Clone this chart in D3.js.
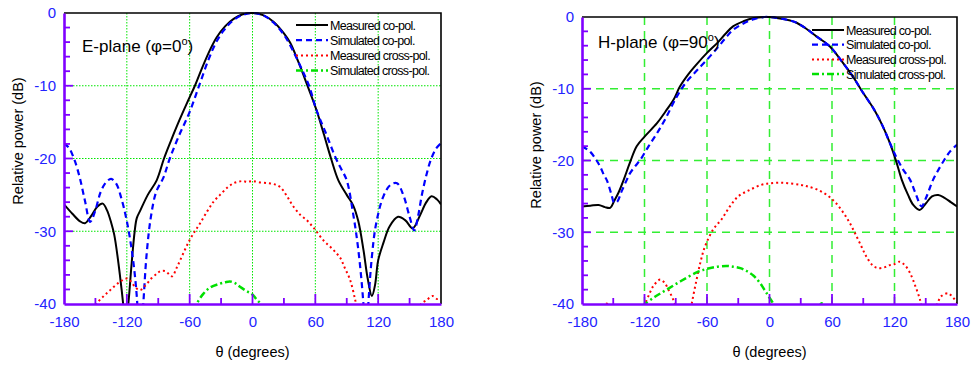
<!DOCTYPE html>
<html lang="en">
<head>
  <meta charset="UTF-8">
  <title>radiation patterns</title>
  <script src="https://d3js.org/d3.v7.min.js" charset="utf-8"></script>
  <style>
    body { margin: 0; background: #fff; }
    text { font-family: Arial, "Liberation Sans", sans-serif; }
  </style>
</head>
<body>
</body>
<script>
  // theta (deg), relative power (dB); null breaks a line
  var thetaTicks = [-180, -120, -60, 0, 60, 120, 180]
  var dbTicks = [0, -10, -20, -30, -40]
  var seriesNames = ['Measured co-pol.', 'Simulated co-pol.', 'Measured cross-pol.', 'Simulated cross-pol.']

  // E-plane
  var eMeasCo = [[-180,-26.3],[-172,-27.6],[-165,-28.6],[-160,-28.9],[-154,-27.9],[-148,-26.6],[-143,-26.2],[-139,-27.1],[-135,-28.8],[-132,-30.5],[-128,-34.4],[-125,-38],[-122.5,-41],[-120.5,-42],[-118.6,-40],[-115.4,-34.4],[-112.5,-30],[-110.5,-28.2],[-107,-27.1],[-100,-25],[-91.5,-23],[-84.5,-20],[-78,-17.6],[-70,-14.8],[-62,-12.2],[-55,-10],[-48,-7.5],[-40,-4.9],[-34,-3.3],[-26,-1.8],[-18,-0.8],[-10,-0.2],[0,0],[10,-0.3],[20,-1.2],[30,-2.8],[36,-4.1],[44,-6.8],[52,-9.8],[61,-13.3],[68,-16.6],[75,-20],[82,-23],[90,-25],[96,-26.4],[101,-28.6],[106,-32.6],[110,-36.5],[114,-38.9],[117,-37.4],[120,-34],[125,-31.6],[131,-29.3],[139,-28],[146,-28.5],[153,-29.6],[160,-27.8],[166,-26],[171,-25.2],[176,-25.6],[180,-26.3]]
  var eSimCo = [[-180,-17.9],[-175,-18.6],[-170,-20.2],[-165,-22.6],[-160,-25.8],[-155,-28.7],[-150,-27.1],[-145,-24.6],[-140,-23.3],[-135,-22.8],[-130,-23.5],[-125,-25.6],[-120,-28.6],[-115.4,-32.5],[-112,-36.5],[-110,-40],[-107.5,-47],[-104.3,-40],[-101,-33],[-97,-28],[-92,-24.6],[-85,-22.6],[-79,-20],[-70,-16.8],[-60,-13.6],[-51,-10],[-42,-6.4],[-35,-4.1],[-28,-2.5],[-20,-1.2],[-10,-0.3],[0,0],[10,-0.3],[20,-1.3],[30,-3],[38,-5],[46,-7.4],[54,-10],[61,-13.3],[70,-16.5],[79.7,-20],[85,-21.5],[90,-23],[96,-27.5],[101,-32.5],[105.9,-40],[108,-47],[110.6,-40],[114,-33.5],[118,-29],[125,-25.2],[132,-23.6],[138,-23.4],[144,-25],[150,-28],[154.5,-29.9],[158,-28],[162,-24.8],[166,-22.3],[170,-20.3],[175,-18.7],[180,-17.9]]
  var eMeasX = [[-152,-41.5],[-148.8,-40],[-142,-38.9],[-136,-38.1],[-128,-37.1],[-120,-36.5],[-116,-36.9],[-112,-37.7],[-107.4,-38.1],[-102,-37.4],[-96,-36.4],[-91,-35.8],[-88,-35.5],[-83,-35.5],[-77,-36.2],[-72,-34.9],[-66,-33],[-60,-31.2],[-55,-30],[-50,-28.9],[-43,-27.2],[-37,-25.9],[-31,-25],[-24,-24],[-18,-23.4],[-10,-23.1],[-5,-23.2],[0,-23.1],[8,-23.3],[16,-23.4],[22,-23.6],[27,-24],[33,-25.2],[39,-26.6],[46,-27.8],[52,-28.5],[57,-29.3],[61,-30],[68,-31.3],[74,-32.1],[80,-33],[84,-33.7],[88,-35],[93,-36.6],[98,-39.4],[101,-41.5],
    null,[157,-41.5],[161,-40],[166,-39.5],[172,-38.9],[176,-39.3],[180,-39.2]]
  var eSimX = [[-56,-41],[-53.3,-40],[-47,-38.6],[-40,-37.7],[-31,-37.2],[-26,-37],[-21.5,-36.9],[-17,-37.1],[-12.3,-37.6],[-6,-38.2],[-2,-38.5],[0.8,-38.8],[4,-39.4],[7.2,-39.9],[9,-40.5]]

  // H-plane
  var hMeasCo = [[-180,-26.4],[-172,-26.3],[-164,-26.2],[-158,-26.5],[-153,-26.6],[-149,-25.6],[-145,-24.5],[-140,-22.7],[-134,-20.3],[-127.5,-18],[-119.5,-16.6],[-108,-14.8],[-100,-13.2],[-92,-11.5],[-86,-9.7],[-78,-8],[-70,-6.6],[-60,-5],[-50,-3.6],[-42,-2.3],[-35,-1.3],[-25,-0.6],[-15,-0.15],[-5,0],[0,0],[10,-0.2],[20,-0.5],[26,-0.8],[35,-1.6],[45,-2.7],[58,-4.1],[70,-6.3],[80,-8.3],[90,-10.6],[100,-12.8],[108,-15],[115.7,-17.6],[122,-20.3],[127,-22.7],[133,-24.8],[138,-26.2],[144,-26.9],[150,-26],[156,-25],[162,-24.8],[168,-25.2],[174,-25.8],[180,-26.4]]
  var hSimCo = [[-180,-18],[-172,-18.8],[-166,-20],[-162.7,-20.8],[-159,-22],[-156,-22.8],[-152,-24.6],[-149,-25.9],[-146,-25.7],[-142,-24.3],[-137,-22.7],[-134,-21.8],[-129,-20.8],[-124,-19.9],[-116,-18],[-108,-16.2],[-100,-14.2],[-89,-11.1],[-80,-9.1],[-70,-7.5],[-60,-5.95],[-50,-4.3],[-42,-2.9],[-35,-1.8],[-25,-0.9],[-15,-0.3],[-5,0],[0,0],[10,-0.2],[20,-0.5],[26,-0.8],[35,-1.6],[45,-2.7],[58,-4.1],[70,-6.3],[80,-8.3],[90,-10.6],[100,-12.8],[108,-15],[115.7,-17.6],[122,-19.6],[128,-21.2],[135,-22.7],[140,-24.5],[146,-26.4],[150,-25.3],[154,-23.8],[157,-22.7],[161,-21.6],[167,-20.1],[173,-18.8],[180,-17.8]]
  var hMeasX = [[-181,-40],[-178,-41],null,[-162,-41],[-159,-40],[-155,-40],[-152,-41],
    null,[-122,-41],[-119.5,-40],[-115,-38.5],[-111.5,-37.5],[-105,-36.6],[-101,-37],[-97,-38],[-93,-39.2],[-90.7,-40],[-88,-41.5],
    null,[-77,-42],[-74.7,-40],[-70,-36.6],[-66,-34],[-62,-32],[-54,-29.6],[-46,-28.2],[-38,-26.4],[-30,-25],[-19,-24.1],[-8,-23.4],[0,-23.2],[10,-23.1],[20,-23.2],[30,-23.4],[36,-23.6],[45,-24],[55,-24.8],[63,-25.8],[71,-27.3],[77,-28.7],[82,-30.1],[88,-31.9],[93,-33.4],[99,-34.6],[104,-35],[110,-34.9],[115,-34.6],[119,-34.5],[125,-34.1],[130,-34.6],[135,-35.7],[140,-37.5],[144.5,-39.4],[147,-41],
    null,[157,-41.5],[161,-40],[165,-38.9],[171.6,-38.5],[175,-38.9],[178,-39.4],[180,-39.8]]
  var hSimX = [[-122,-40.3],[-119.5,-40],[-110,-39],[-98.7,-38],[-85,-36.8],[-70,-35.6],[-60,-35.1],[-50,-34.8],[-41,-34.7],[-35,-34.8],[-28,-35],[-22,-35.4],[-15,-36.1],[-9,-37.1],[-4,-38.2],[-1,-38.9],[3.7,-40],[6,-41],
    null,[47,-40.6],[50,-39.9],[53,-40.6]]

  var styles = [
    { color: '#000', width: 2, dash: null },
    { color: '#0000ff', width: 2.2, dash: '6,4' },
    { color: '#ff0000', width: 2, dash: '2,3' },
    { color: '#00e000', width: 2.5, dash: '7,3,2,3' }
  ]
  var axisColor = '#7f00ff'

  var svg = d3.select('body').append('svg').attr('width', 971).attr('height', 365)

  function drawPanel(cfg) {
    var x = d3.scaleLinear().domain([-180, 180]).range([cfg.left, cfg.right])
    var y = d3.scaleLinear().domain([-40, 0]).range([cfg.bottom, cfg.top])
    var g = svg.append('g')

    // grid
    g.append('g').selectAll('line').data(thetaTicks.slice(1, -1)).join('line')
      .attr('x1', d => x(d)).attr('x2', d => x(d)).attr('y1', cfg.top).attr('y2', cfg.bottom)
      .attr('stroke', cfg.gridColor).attr('stroke-width', cfg.gridWidth).attr('stroke-dasharray', cfg.gridDash)
    g.append('g').selectAll('line').data(dbTicks.slice(1, -1)).join('line')
      .attr('y1', d => y(d)).attr('y2', d => y(d)).attr('x1', cfg.left).attr('x2', cfg.right)
      .attr('stroke', cfg.gridColor).attr('stroke-width', cfg.gridWidth).attr('stroke-dasharray', cfg.gridDash)

    // curves
    g.append('clipPath').attr('id', cfg.id + 'clip').append('rect')
      .attr('x', cfg.left).attr('y', cfg.top - 2).attr('width', cfg.right - cfg.left).attr('height', cfg.bottom - cfg.top + 2)
    var line = d3.line().defined(d => d != null).x(d => x(d[0])).y(d => y(d[1])).curve(d3.curveCatmullRom.alpha(0.5))
    cfg.series.forEach(function(s, i) {
      g.append('path').attr('d', line(s)).attr('clip-path', 'url(#' + cfg.id + 'clip)')
        .attr('fill', 'none').attr('stroke', styles[i].color).attr('stroke-width', styles[i].width)
        .attr('stroke-dasharray', styles[i].dash)
    })

    // frame: top and right black
    g.append('path').attr('d', 'M' + cfg.left + ',' + cfg.top + 'H' + cfg.right + 'V' + cfg.bottom)
      .attr('fill', 'none').attr('stroke', '#000').attr('stroke-width', 1.6)

    // axes (labels from d3 axis, ticks drawn by hand so minor ones fit in)
    var yAxis = d3.axisLeft(y).tickValues(dbTicks).tickSize(0).tickPadding(8).tickFormat(d => String(d))
    var ya = g.append('g').attr('transform', 'translate(' + cfg.left + ',0)').call(yAxis)
    var xAxis = d3.axisBottom(x).tickValues(thetaTicks).tickSize(0).tickPadding(12).tickFormat(d => String(d))
    var xa = g.append('g').attr('transform', 'translate(0,' + cfg.bottom + ')').call(xAxis)
    ;[ya, xa].forEach(function(a) {
      a.select('.domain').attr('stroke', axisColor).attr('stroke-width', 2.6)
      a.selectAll('text').attr('fill', '#2323ff').style('font-size', '15px').style('font-family', 'Arial, "Liberation Sans", sans-serif')
    })
    g.append('g').selectAll('line').data(d3.range(-38, 0, 2)).join('line')
      .attr('x1', cfg.left).attr('x2', d => cfg.left + (d % 10 == 0 ? 9 : 6))
      .attr('y1', d => y(d)).attr('y2', d => y(d)).attr('stroke', axisColor).attr('stroke-width', 1.8)
    g.append('g').selectAll('line').data(d3.range(-150, 180, 30)).join('line')
      .attr('y1', cfg.bottom).attr('y2', d => cfg.bottom - (d % 60 == 0 ? 10 : 6))
      .attr('x1', d => x(d)).attr('x2', d => x(d)).attr('stroke', axisColor).attr('stroke-width', 1.8)

    // titles
    var t = g.append('text').attr('x', cfg.left + cfg.titleDx).attr('y', cfg.titleY).style('font-size', '17px').attr('fill', '#000')
    t.append('tspan').text(cfg.title)
    t.append('tspan').text('o').style('font-size', '11px').attr('dy', '-7')
    t.append('tspan').text(')').attr('dy', '7')

    g.append('text').attr('transform', 'translate(' + cfg.yTitleX + ',' + cfg.yTitleY + ') rotate(-90)')
      .attr('text-anchor', 'middle').style('font-size', '14.5px').text('Relative power (dB)')
    g.append('text').attr('x', (cfg.left + cfg.right) / 2).attr('y', 357)
      .attr('text-anchor', 'middle').style('font-size', '14.5px').text('\u03b8 (degrees)')

    // legend
    var lg = g.append('g').selectAll('g').data(seriesNames).join('g')
      .attr('transform', (d, i) => 'translate(' + cfg.legX + ',' + (cfg.legY + i * cfg.legStep) + ')')
    lg.append('line').attr('x1', 0).attr('x2', 32)
      .attr('stroke', (d, i) => styles[i].color).attr('stroke-width', (d, i) => styles[i].width)
      .attr('stroke-dasharray', (d, i) => styles[i].dash)
    lg.append('text').attr('x', 34).attr('dy', '0.36em').style('font-size', '12.5px')
      .style('letter-spacing', '-0.7px').text(d => d)
  }

  drawPanel({ id: 'e', left: 64, right: 441, top: 13, bottom: 304,
    gridColor: '#00e600', gridWidth: 1, gridDash: '1.5,1.5',
    title: 'E-plane (\u03c6=0', titleDx: 18, titleY: 52,
    yTitleX: 23, yTitleY: 141,
    legX: 296, legY: 25, legStep: 15.2,
    series: [eMeasCo, eSimCo, eMeasX, eSimX] })

  drawPanel({ id: 'h', left: 582, right: 957, top: 17, bottom: 304,
    gridColor: '#33ee33', gridWidth: 1.5, gridDash: '8,6',
    title: 'H-plane (\u03c6=90', titleDx: 16, titleY: 48,
    yTitleX: 541, yTitleY: 145,
    legX: 812, legY: 30, legStep: 14.7,
    series: [hMeasCo, hSimCo, hMeasX, hSimX] })
</script>
</html>
